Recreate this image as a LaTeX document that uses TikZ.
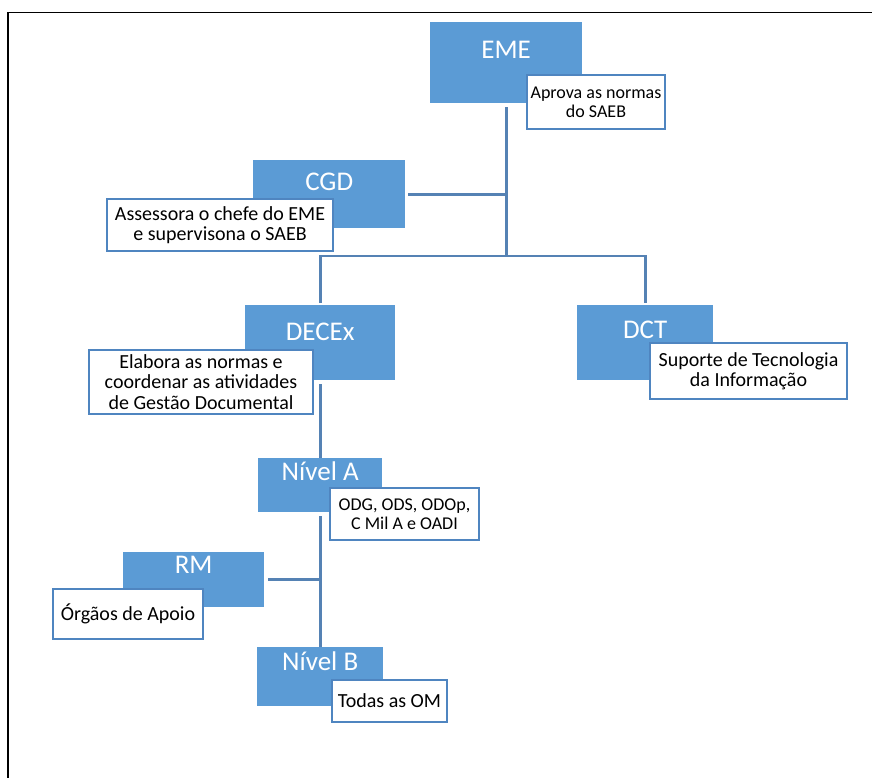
\documentclass[tikz,border=0pt]{standalone}
\usepackage{fontspec}
\setmainfont{Carlito}
\usepackage{tikz}

\definecolor{unitblue}{HTML}{5B9BD5}
\definecolor{linkblue}{HTML}{5582B4}
\definecolor{noteblue}{HTML}{4F85C0}

\begin{document}
\begin{tikzpicture}[x=1pt,y=-1pt]
\useasboundingbox (0,0) rectangle (872,778);

\tikzstyle{unit}=[fill=unitblue,text=white,inner sep=0pt,anchor=north west,
  font=\fontsize{27}{30}\selectfont]
\tikzstyle{note}=[draw=noteblue,line width=2pt,fill=white,inner sep=0pt,
  anchor=north west,align=center,font=\fontsize{20}{20.5}\selectfont]
\tikzstyle{link}=[draw=linkblue,line width=2.6pt]

%% Frame
\draw[line width=1.2pt] (8,778) -- (8,12.5) -- (872,12.5);

%% Units (title boxes)
\node [unit,minimum width=152pt,text height=36.5pt,text depth=44.5pt] (eme) at (430,22) {EME};
\node [unit,minimum width=152pt,text height=30.5pt,text depth=37.5pt] (cgd) at (253,160) {CGD};
\node [unit,minimum width=150pt,text height=35.5pt,text depth=39.5pt] (decex) at (245,305) {DECEx};
\node [unit,minimum width=136pt,text height=33.5pt,text depth=41.5pt] (dct) at (577,305) {DCT};
\node [unit,minimum width=124pt,text height=22.5pt,text depth=31.5pt] (nivela) at (258,458) {Nível A};
\node [unit,minimum width=141pt,text height=21.5pt,text depth=33.5pt] (rm) at (123,552) {RM};
\node [unit,minimum width=126pt,text height=23.5pt,text depth=35.5pt] (nivelb) at (257,647) {Nível B};

%% Notes under each unit
\node [note,minimum width=138pt,minimum height=54pt,font=\fontsize{18}{19}\selectfont]
  (emenote) at (526,74) {Aprova as normas\\do SAEB};
\node [note,minimum width=226pt,minimum height=52pt] (cgdnote) at (106,198)
  {Assessora o chefe do EME\\e supervisona o SAEB};
\node [note,minimum width=224pt,minimum height=64pt] (decexnote) at (88,349)
  {Elabora as normas e\\coordenar as atividades\\de Gestão Documental};
\node [note,minimum width=197pt,minimum height=56pt] (dctnote) at (649,342)
  {Suporte de Tecnologia\\da Informação};
\node [note,minimum width=149pt,minimum height=52pt,font=\fontsize{18}{19}\selectfont]
  (nivelanote) at (329,487) {ODG, ODS, ODOp,\\C Mil A e OADI};
\node [note,minimum width=150pt,minimum height=50pt] (rmnote) at (52,588) {Órgãos de Apoio};
\node [note,minimum width=115pt,minimum height=42pt] (nivelbnote) at (331,679) {Todas as OM};

%% Connectors
\coordinate (branch) at (0,256);
\draw[link] ([yshift=-4pt]eme.south) -- (eme.south |- branch);
\draw[link] ([xshift=3pt]cgd.east) -- (cgd.east -| eme.south);
\draw[link] ([yshift=2pt]decex.north) |- (dct.north |- branch) -- ([yshift=2pt]dct.north);
\draw[link] ([yshift=-4pt]decex.south) -- (nivela.north);
\draw[link] ([yshift=-4pt]nivela.south) -- (nivelb.north);
\draw[link] ([xshift=4pt]rm.east) -- (rm.east -| nivela.south);
\end{tikzpicture}
\end{document}
